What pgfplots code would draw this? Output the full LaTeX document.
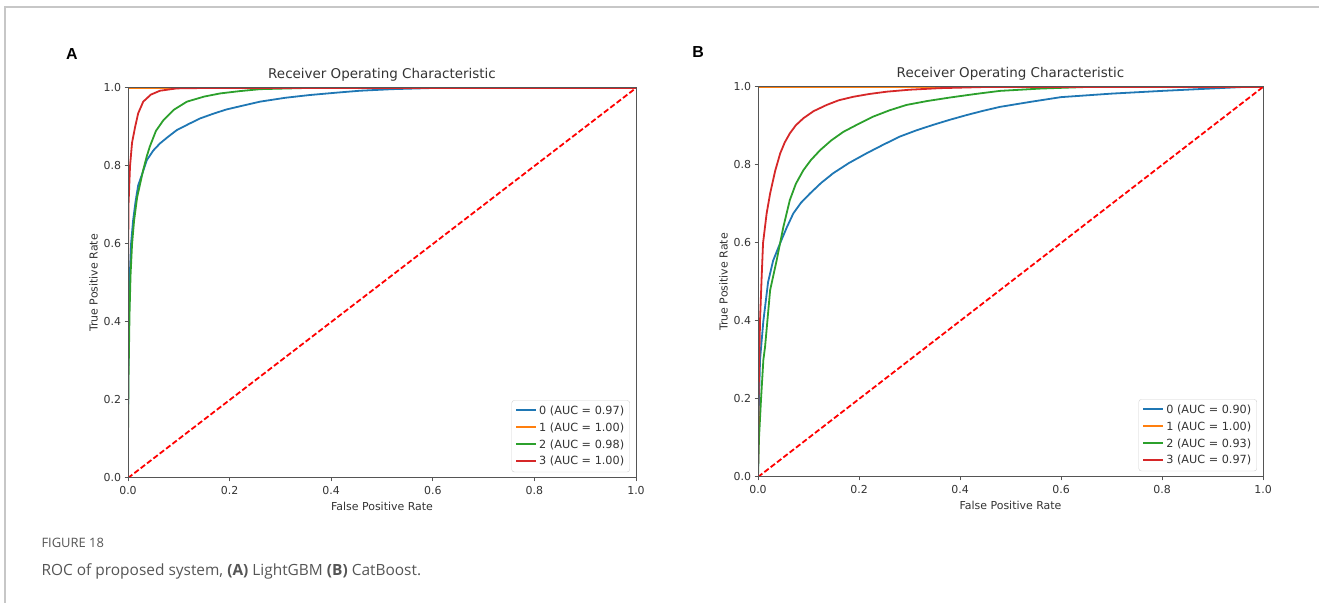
\documentclass[border=0pt]{standalone}
\usepackage{fontspec}
\setmainfont{DejaVu Sans}
\newfontfamily\capfont{Open Sans}
\newfontfamily\labfont{Liberation Sans}
\usepackage{pgfplots}
\pgfplotsset{compat=1.18}
\definecolor{mblue}{HTML}{1F77B4}
\definecolor{morange}{HTML}{FF7F0E}
\definecolor{mgreen}{HTML}{2CA02C}
\definecolor{mred}{HTML}{D62728}
\definecolor{spine}{HTML}{555555}
\definecolor{txt}{HTML}{333333}
\definecolor{capgray}{HTML}{555555}

\pgfplotsset{
  roc/.style={
    scale only axis, anchor=south west,
    height=390bp, axis on top,
    xmin=0, xmax=1, ymin=0, ymax=1,
    xtick={0,0.2,...,1.0}, ytick={0,0.2,...,1.0},
    xtick pos=bottom, ytick pos=left,
    tick align=outside, major tick length=3.5bp,
    axis line style={spine, line width=1bp},
    every tick/.style={spine, line width=1bp},
    /pgf/number format/.cd, fixed, fixed zerofill, precision=1, assume math mode=true,
    /pgfplots/.cd,
    tick label style={font=\fontsize{11}{13}\selectfont, text=txt},
    xticklabel style={yshift=-1bp},
    title={Receiver Operating Characteristic},
    title style={font=\fontsize{13.5}{15}\selectfont, text=txt, yshift=-3bp},
    xlabel={False Positive Rate}, ylabel={True Positive Rate},
    label style={font=\fontsize{11}{13}\selectfont, text=txt},
    xlabel style={yshift=-1bp}, ylabel style={yshift=-1bp},
    legend cell align=left,
    legend image code/.code={\draw[##1, line width=2bp, line cap=butt] (0bp,0.5bp) -- (20bp,0.5bp);},
    legend style={at={(0.988,0.015)}, anchor=south east,
      draw=black!18, rounded corners=2.5bp, fill=white,
      font=\fontsize{11.3}{13}\selectfont, text=txt,
      row sep=2.8bp, inner sep=3.5bp},
    every axis plot/.append style={line width=1.8bp},
  }
}

\begin{document}
\begin{tikzpicture}
\path[use as bounding box] (0,0) rectangle (1319bp,603bp);
\draw[color=black!22, line width=1.5bp] (5bp,0) -- (5bp,596bp) -- (1319bp,596bp);

\node[font=\labfont\bfseries\fontsize{16}{16}\selectfont] at (72bp,549bp) {A};
\node[font=\labfont\bfseries\fontsize{16}{16}\selectfont] at (698bp,551bp) {B};

% A: LightGBM
\begin{axis}[roc, at={(128bp,125bp)}, width=508bp]
\addplot[mblue] coordinates {(0,0)(0,0.15)(0.001,0.35)(0.003,0.5)(0.006,0.6)(0.01,0.66)(0.015,0.71)(0.02,0.75)(0.028,0.78)(0.037,0.815)(0.05,0.84)(0.063,0.858)(0.08,0.876)(0.096,0.892)(0.12,0.908)(0.142,0.922)(0.17,0.935)(0.194,0.945)(0.23,0.956)(0.26,0.965)(0.31,0.975)(0.358,0.982)(0.41,0.988)(0.457,0.993)(0.52,0.997)(0.6,1)(1,1)};
\addplot[morange] coordinates {(0,0)(0,1)(1,1)};
\addplot[mgreen] coordinates {(0,0)(0,0.1)(0.001,0.25)(0.003,0.42)(0.005,0.52)(0.008,0.6)(0.012,0.66)(0.018,0.72)(0.024,0.755)(0.03,0.79)(0.037,0.825)(0.043,0.85)(0.055,0.89)(0.07,0.918)(0.09,0.944)(0.116,0.965)(0.15,0.978)(0.181,0.986)(0.22,0.992)(0.26,0.997)(0.35,1)(1,1)};
\addplot[mred] coordinates {(0,0)(0,0.5)(0.001,0.7)(0.004,0.8)(0.008,0.86)(0.014,0.9)(0.02,0.935)(0.03,0.965)(0.045,0.983)(0.063,0.993)(0.096,0.999)(0.15,1)(1,1)};
\addplot[red, dash pattern=on 5.5bp off 2.5bp, forget plot] coordinates {(0,0)(1,1)};
\legend{0 (AUC = 0.97), 1 (AUC = 1.00), 2 (AUC = 0.98), 3 (AUC = 1.00)}
\end{axis}

% B: CatBoost
\begin{axis}[roc, at={(758bp,126bp)}, width=505bp]
\addplot[mblue] coordinates {(0,0)(0.001,0.15)(0.004,0.3)(0.0106,0.4)(0.02,0.5)(0.03,0.555)(0.044,0.6)(0.057,0.64)(0.07,0.676)(0.085,0.703)(0.103,0.727)(0.125,0.754)(0.149,0.779)(0.18,0.805)(0.215,0.83)(0.248,0.852)(0.281,0.873)(0.314,0.889)(0.347,0.903)(0.38,0.916)(0.413,0.928)(0.446,0.939)(0.479,0.949)(0.54,0.962)(0.6,0.974)(0.7,0.983)(0.8,0.99)(0.88,0.995)(0.96,1)(1,1)};
\addplot[morange] coordinates {(0,0)(0,1)(1,1)};
\addplot[mgreen] coordinates {(0,0)(0.002,0.1)(0.006,0.2)(0.0106,0.3)(0.014,0.334)(0.024,0.479)(0.037,0.556)(0.05,0.64)(0.063,0.71)(0.075,0.752)(0.09,0.787)(0.105,0.813)(0.123,0.838)(0.145,0.863)(0.169,0.885)(0.2,0.906)(0.228,0.924)(0.26,0.94)(0.294,0.954)(0.335,0.964)(0.38,0.973)(0.43,0.982)(0.479,0.99)(0.56,0.996)(0.65,1)(1,1)};
\addplot[mred] coordinates {(0,0)(0.001,0.2)(0.003,0.33)(0.004,0.4)(0.007,0.505)(0.01,0.6)(0.017,0.675)(0.024,0.727)(0.034,0.785)(0.044,0.83)(0.053,0.858)(0.063,0.881)(0.075,0.902)(0.09,0.92)(0.11,0.938)(0.136,0.954)(0.16,0.966)(0.189,0.975)(0.22,0.982)(0.255,0.988)(0.3,0.993)(0.36,0.997)(0.45,1)(1,1)};
\addplot[red, dash pattern=on 5.5bp off 2.5bp, forget plot] coordinates {(0,0)(1,1)};
\legend{0 (AUC = 0.90), 1 (AUC = 1.00), 2 (AUC = 0.93), 3 (AUC = 0.97)}
\end{axis}

\node[anchor=base west, font=\capfont\fontsize{13}{15}\selectfont, text=capgray] at (38bp,55bp) {FIGURE 18};
\node[anchor=base west, font=\capfont\fontsize{15.5}{18}\selectfont, text=capgray] at (38bp,28bp) {ROC of proposed system, \textbf{(A)} LightGBM \textbf{(B)} CatBoost.};
\end{tikzpicture}
\end{document}
